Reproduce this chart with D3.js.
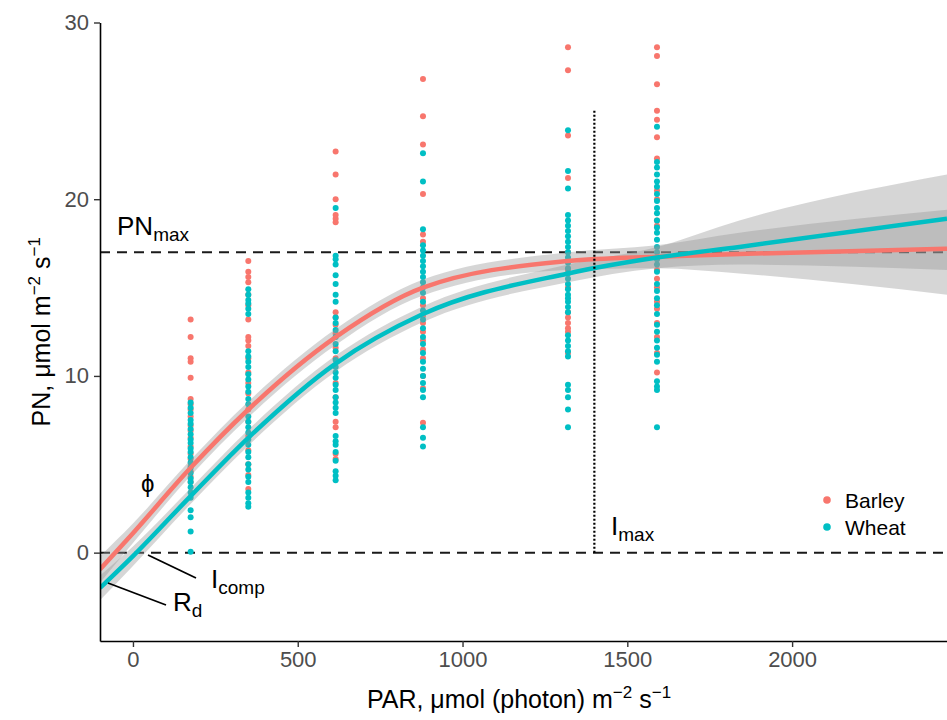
<!DOCTYPE html>
<html>
<head>
<meta charset="utf-8">
<script src="https://cdn.jsdelivr.net/npm/d3@7"></script>
<style>
  body { margin: 0; background: #fff; }
  svg { font-family: "Liberation Sans", Arial, sans-serif; }
</style>
</head>
<body>
<div id="chart"></div>
<script>
// PAR levels of the measurements
const parLevels = [175, 350, 615, 880, 1320, 1590]

// PN readings per PAR level
const barleyPN = [
  [13.2, 12.2, 11.0, 10.8, 9.9, 8.7, 8.4, 8.1, 7.7, 7.2, 6.9, 6.5, 6.0, 5.6, 5.3, 4.9, 4.6, 4.3, 4.0],
  [16.5, 15.9, 15.6, 15.3, 14.6, 14.0, 13.2, 12.2, 12.0, 11.7, 11.0, 10.2, 9.6, 9.0, 8.1, 7.4, 6.6, 5.8, 5.0, 4.4, 3.6],
  [22.7, 21.4, 20.0, 19.1, 18.9, 18.7, 13.6, 13.3, 12.9, 12.4, 11.6, 11.0, 9.6, 8.8, 7.4, 7.1, 5.6, 5.3],
  [26.8, 24.7, 23.1, 20.3, 18.0, 17.6, 14.4, 14.0, 13.4, 13.0, 12.5, 12.0, 11.5, 11.0, 10.0, 9.3, 7.35],
  [28.6, 27.3, 23.6, 21.2, 17.0, 16.0, 15.0, 13.6, 13.3, 13.0, 12.7, 12.5, 11.3],
  [28.6, 28.1, 26.5, 25.0, 24.5, 23.5, 22.3, 20.5, 20.0, 18.8, 18.5, 16.0, 15.5, 15.0, 14.2, 13.8, 13.0, 12.2, 11.3, 10.2]
]
const wheatPN = [
  [8.5, 8.2, 7.9, 7.5, 7.3, 7.0, 6.7, 6.4, 6.2, 5.9, 5.7, 5.4, 5.1, 4.8, 4.5, 4.2, 4.0, 3.7, 3.4, 3.1, 2.4, 2.0, 1.2, 0.05],
  [14.9, 14.6, 14.3, 14.1, 13.8, 13.5, 11.4, 11.1, 10.8, 10.5, 10.1, 9.8, 9.4, 9.1, 8.7, 8.4, 7.7, 7.4, 7.1, 6.8, 6.4, 6.1, 5.7, 5.4, 5.0, 4.7, 4.3, 4.0, 3.4, 3.1, 2.8, 2.6],
  [19.5, 16.8, 16.6, 16.3, 15.7, 15.2, 14.6, 14.2, 13.3, 13.0, 12.6, 12.2, 11.8, 11.4, 10.9, 10.5, 10.2, 9.9, 9.5, 9.2, 8.8, 8.5, 8.2, 7.9, 6.6, 6.3, 6.1, 5.7, 5.2, 4.6, 4.35, 4.1],
  [22.6, 21.0, 18.3, 17.4, 17.1, 16.8, 16.5, 16.2, 15.9, 15.6, 15.3, 15.0, 14.7, 14.2, 13.7, 13.2, 12.7, 12.2, 11.8, 11.3, 10.8, 10.4, 10.0, 9.6, 9.2, 8.8, 7.1, 6.5, 6.0],
  [23.9, 21.6, 20.6, 19.1, 18.8, 18.5, 18.2, 17.9, 17.6, 17.3, 17.0, 16.7, 16.4, 16.1, 15.8, 15.5, 15.2, 14.9, 14.6, 14.4, 14.2, 13.9, 13.6, 12.3, 12.0, 11.7, 11.4, 11.1, 9.5, 9.2, 8.8, 8.1, 7.1],
  [24.1, 22.1, 21.8, 21.4, 21.0, 20.7, 20.3, 19.9, 19.5, 19.2, 18.8, 18.4, 18.1, 17.7, 17.3, 17.0, 16.6, 16.3, 15.9, 15.2, 14.8, 14.4, 14.0, 13.5, 12.9, 12.5, 12.0, 11.6, 11.2, 10.8, 9.7, 9.4, 9.2, 7.1]
]

// fitted light-response curves
const fitPAR    = [-100, 0, 175, 350, 615, 880, 1320, 1590, 1840, 2470]
const barleyFit = [-0.95, 1.1, 4.8, 8.1, 12.2, 15.0, 16.5, 16.75, 16.9, 17.2]
const barleyLo  = [-1.7, 0.55, 4.35, 7.65, 11.75, 14.55, 16.0, 16.1, 15.8, 14.6]
const barleyHi  = [-0.2, 1.65, 5.25, 8.55, 12.65, 15.45, 17.0, 17.4, 18.1, 19.4]
const wheatFit  = [-2.0, -0.2, 3.2, 6.5, 10.7, 13.5, 15.8, 16.7, 17.3, 18.9]
const wheatLo   = [-2.7, -0.75, 2.75, 6.05, 10.25, 13.05, 15.3, 16.1, 16.3, 16.0]
const wheatHi   = [-1.3, 0.35, 3.65, 6.95, 11.15, 13.95, 16.3, 17.3, 18.8, 21.4]

const species = ["Barley", "Wheat"]
const xTicks = [0, 500, 1000, 1500, 2000]
const yTicks = [0, 10, 20, 30]

const pnMax = 17
const iMax = 1400
const iMaxTop = 25

const width = 947
const height = 720
const mLeft = 100, mRight = 947, mTop = 22.5, mBottom = 641

const x = d3.scaleLinear().domain([-100, 2470]).range([mLeft, mRight])
const y = d3.scaleLinear().domain([-5, 30]).range([mBottom, mTop])

const color = d3.scaleOrdinal()
  .domain(species)
  .range(["#F8766D", "#00BFC4"])

const svg = d3.select("#chart")
  .append("svg")
  .attr("width", width)
  .attr("height", height)

svg.append("defs").append("clipPath")
  .attr("id", "plot")
  .append("rect")
  .attr("x", mLeft).attr("y", mTop - 2)
  .attr("width", mRight - mLeft).attr("height", mBottom - mTop + 2)

const plot = svg.append("g").attr("clip-path", "url(#plot)")

// reference lines
plot.selectAll("line.ref")
  .data([pnMax, 0])
  .join("line")
  .attr("class", "ref")
  .attr("x1", mLeft).attr("x2", mRight)
  .attr("y1", d => y(d)).attr("y2", d => y(d))
  .attr("stroke", "#1a1a1a")
  .attr("stroke-width", 2)
  .attr("stroke-dasharray", "10,7")

// points
const pts = []
species.forEach(s => {
  const src = s === "Barley" ? barleyPN : wheatPN
  src.forEach((vals, i) => vals.forEach(v => pts.push({ s, par: parLevels[i], pn: v })))
})

plot.selectAll("circle.pt")
  .data(pts)
  .join("circle")
  .attr("class", "pt")
  .attr("cx", d => x(d.par))
  .attr("cy", d => y(d.pn))
  .attr("r", 3)
  .attr("fill", d => color(d.s))

// confidence ribbons + fitted curves
const fits = [
  { s: "Barley", fit: barleyFit, lo: barleyLo, hi: barleyHi },
  { s: "Wheat", fit: wheatFit, lo: wheatLo, hi: wheatHi }
]

const area = d3.area()
  .x((d, i) => x(fitPAR[i]))
  .y0(d => y(d[0]))
  .y1(d => y(d[1]))
  .curve(d3.curveMonotoneX)

const line = d3.line()
  .x((d, i) => x(fitPAR[i]))
  .y(d => y(d))
  .curve(d3.curveMonotoneX)

plot.selectAll("path.band")
  .data(fits)
  .join("path")
  .attr("class", "band")
  .attr("d", f => area(f.lo.map((v, i) => [v, f.hi[i]])))
  .attr("fill", "#999999")
  .attr("fill-opacity", 0.4)

plot.selectAll("path.fit")
  .data(fits)
  .join("path")
  .attr("class", "fit")
  .attr("d", f => line(f.fit))
  .attr("fill", "none")
  .attr("stroke", f => color(f.s))
  .attr("stroke-width", 4.5)

// Imax dotted line
plot.append("line")
  .attr("x1", x(iMax)).attr("x2", x(iMax))
  .attr("y1", y(0)).attr("y2", y(iMaxTop))
  .attr("stroke", "#000")
  .attr("stroke-width", 2.2)
  .attr("stroke-dasharray", "2,2")

// axes
const xAxis = svg.append("g")
  .attr("transform", `translate(0,${mBottom})`)
  .call(d3.axisBottom(x).tickValues(xTicks).tickFormat(d3.format("d"))
    .tickSize(6).tickSizeOuter(0).tickPadding(4))
const yAxis = svg.append("g")
  .attr("transform", `translate(${mLeft},0)`)
  .call(d3.axisLeft(y).tickValues(yTicks).tickFormat(d3.format("d"))
    .tickSize(6).tickSizeOuter(0).tickPadding(5))

;[xAxis, yAxis].forEach(g => {
  g.select(".domain").attr("stroke", "#000").attr("stroke-width", 1.6)
  g.selectAll(".tick line").attr("stroke", "#333").attr("stroke-width", 1.4)
  g.selectAll(".tick text")
    .attr("fill", "#4d4d4d")
    .style("font-size", "22px")
    .style("font-family", "Liberation Sans, Arial, sans-serif")
})

// axis titles
const xt = svg.append("text")
  .attr("x", 519).attr("y", 708)
  .attr("text-anchor", "middle")
  .style("font-size", "25px")
xt.append("tspan").text("PAR, μmol (photon) m")
xt.append("tspan").attr("dy", -10).style("font-size", "17px").text("−2")
xt.append("tspan").attr("dy", 10).text(" s")
xt.append("tspan").attr("dy", -10).style("font-size", "17px").text("−1")

const yt = svg.append("text")
  .attr("transform", `translate(50,${(mTop + mBottom) / 2}) rotate(-90)`)
  .attr("text-anchor", "middle")
  .style("font-size", "25px")
yt.append("tspan").text("PN, μmol m")
yt.append("tspan").attr("dy", -10).style("font-size", "17px").text("−2")
yt.append("tspan").attr("dy", 10).text(" s")
yt.append("tspan").attr("dy", -10).style("font-size", "17px").text("−1")

// annotations
function subLabel(px, py, main, sub, size) {
  const t = svg.append("text")
    .attr("x", px).attr("y", py)
    .style("font-size", size + "px")
    .attr("fill", "#000")
  t.append("tspan").text(main)
  t.append("tspan").attr("dy", 6).style("font-size", Math.round(size * 0.72) + "px").text(sub)
}

subLabel(117, 235, "PN", "max", 26)
subLabel(611, 535, "I", "max", 26)
subLabel(211, 588, "I", "comp", 26)
subLabel(173, 611, "R", "d", 26)

svg.append("text")
  .attr("x", 141).attr("y", 492)
  .style("font-size", "24px")
  .text("ϕ")

// leader lines
svg.selectAll("line.lead")
  .data([[148, 555, 196, 578], [108, 583, 166, 605]])
  .join("line")
  .attr("class", "lead")
  .attr("x1", d => d[0]).attr("y1", d => d[1])
  .attr("x2", d => d[2]).attr("y2", d => d[3])
  .attr("stroke", "#000")
  .attr("stroke-width", 1.8)

// legend
const legend = svg.append("g").attr("transform", "translate(827,500)")
legend.selectAll("circle")
  .data(species)
  .join("circle")
  .attr("cx", 0)
  .attr("cy", (d, i) => i * 27)
  .attr("r", 3.8)
  .attr("fill", d => color(d))
legend.selectAll("text")
  .data(species)
  .join("text")
  .attr("x", 18)
  .attr("y", (d, i) => i * 27 + 8)
  .style("font-size", "21px")
  .text(d => d)
</script>
</body>
</html>
